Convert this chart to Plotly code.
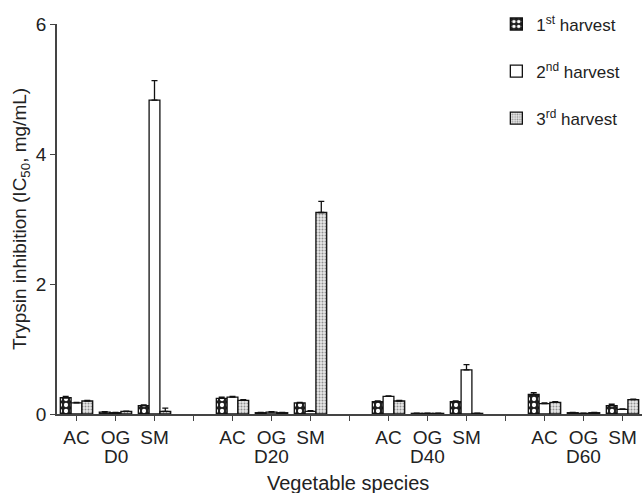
import plotly.graph_objects as go

positions = list(range(15))
tick_labels = ["AC", "OG", "SM", "", "AC", "OG", "SM", "", "AC", "OG", "SM", "", "AC", "OG", "SM"]
groups = ["D0", "D20", "D40", "D60"]
group_centers = [1, 5, 9, 13]

# values per category position (None for gap positions)
h1 = [0.25, 0.03, 0.13, None, 0.24, 0.02, 0.17, None, 0.19, 0.01, 0.19, None, 0.30, 0.02, 0.13]
h1_err = [0.02, 0.005, 0.01, 0, 0.02, 0.005, 0.01, 0, 0.01, 0.005, 0.01, 0, 0.03, 0.005, 0.02]
h2 = [0.17, 0.02, 4.83, None, 0.26, 0.03, 0.04, None, 0.27, 0.01, 0.68, None, 0.16, 0.01, 0.07]
h2_err = [0.01, 0.005, 0.30, 0, 0.01, 0.005, 0.01, 0, 0.01, 0.005, 0.08, 0, 0.01, 0.005, 0.01]
h3 = [0.20, 0.04, 0.04, None, 0.21, 0.02, 3.10, None, 0.20, 0.01, 0.01, None, 0.18, 0.02, 0.22]
h3_err = [0.01, 0.005, 0.05, 0, 0.01, 0.005, 0.17, 0, 0.01, 0.005, 0.005, 0, 0.01, 0.005, 0.01]

names = ["1<sup>st</sup> harvest", "2<sup>nd</sup> harvest", "3<sup>rd</sup> harvest"]

fig = go.Figure()
styles = [
    dict(color="#1e1e1e", pattern=dict(shape=".", fgcolor="white", bgcolor="#1e1e1e", size=6, solidity=0.4, fillmode="replace")),
    dict(color="white"),
    dict(color="#e8e8e8", pattern=dict(shape=".", fgcolor="#909090", bgcolor="#e8e8e8", size=3, solidity=0.35, fillmode="replace")),
]
for i, (vals, err) in enumerate([(h1, h1_err), (h2, h2_err), (h3, h3_err)]):
    fig.add_trace(go.Bar(
        x=positions, y=vals, name=names[i], legendgroup=f"g{i}",
        marker=dict(line=dict(color="#111", width=1.3), **styles[i]),
        error_y=dict(type="data", array=err, arrayminus=[0] * len(err), symmetric=False,
                     color="#111", thickness=1.3, width=3),
    ))

for g, c in zip(groups, group_centers):
    fig.add_annotation(x=c, y=-0.108, xref="x", yref="paper", text=g, showarrow=False,
                       yanchor="middle", font=dict(size=19, color="#222"))
fig.add_annotation(x=0.497, y=-0.178, xref="paper", yref="paper", text="Vegetable species",
                   showarrow=False, yanchor="middle", font=dict(size=20, color="#222"))

fig.update_layout(
    width=644, height=493,
    margin=dict(l=57, r=2, t=24, b=79, autoexpand=False),
    paper_bgcolor="white", plot_bgcolor="white",
    font=dict(family="Liberation Sans, Arial, sans-serif", color="#222", size=19),
    barmode="group", bargap=0.17, bargroupgap=0,
    showlegend=True,
    legend=dict(x=0.751, y=1.045, xanchor="left", yanchor="top", tracegroupgap=22,
                font=dict(size=17), bgcolor="rgba(0,0,0,0)", itemwidth=30),
    xaxis=dict(range=[-0.5, 14.5], tickvals=positions, ticktext=tick_labels,
               showline=True, linecolor="#444", linewidth=1.5, ticks="outside",
               ticklen=5, tickcolor="#444", showgrid=False, zeroline=False,
               tickfont=dict(size=19), automargin=False),
    yaxis=dict(range=[0, 6], tickvals=[0, 2, 4, 6], showline=True, linecolor="#444",
               linewidth=1.5, ticks="outside", ticklen=5, tickcolor="#444",
               showgrid=False, zeroline=False, tickfont=dict(size=19), automargin=False,
               title=dict(text="Trypsin inhibition (IC<sub>50</sub>, mg/mL)",
                          font=dict(size=19), standoff=4)),
)

fig.write_html("out.html", config={"displayModeBar": False},
               post_script="document.body.style.margin='0';document.body.style.overflow='hidden';")
